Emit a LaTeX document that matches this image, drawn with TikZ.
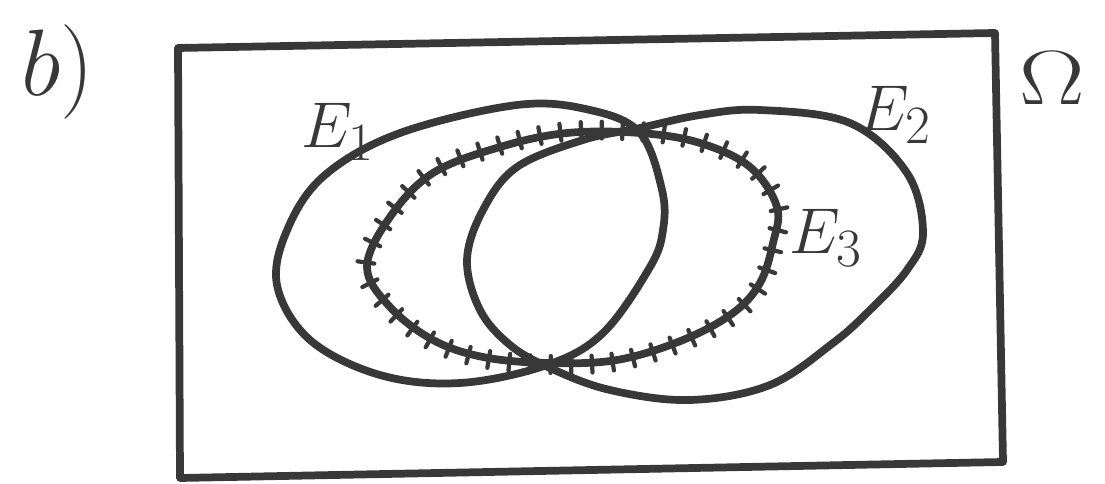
\documentclass[tikz,border=0pt]{standalone}
\usetikzlibrary{decorations.markings}
\tikzset{
  ink/.style={draw=black!78, line width=5.5pt, line cap=round, line join=round},
  hatched/.style={ink, postaction={decorate, decoration={markings,
      mark=between positions 0.01 and 1 step 0.02 with {\draw[black!78, line width=3pt, line cap=round] (0,-5pt) -- (0,7pt);}}}},
  lbl/.style={text=black!78, inner sep=0pt, font=\Huge}
}
\begin{document}
\begin{tikzpicture}[x=0.025cm,y=-0.025cm]
\useasboundingbox (0,0) rectangle (1105,484);
% universe
\draw[ink] (178,48) -- (995,33) -- (1003,462) -- (180,478) -- cycle;
% E1
\draw[ink] plot[smooth cycle, tension=0.6] coordinates {(277,285) (288,228) (325,175) (400,133) (517,105) (590,110) (640,133) (662,190) (663,230) (650,267) (603,333) (547,365) (460,383) (380,375) (310,340)};
% E2
\draw[ink] plot[smooth cycle, tension=0.6] coordinates {(467,260) (483,210) (517,167) (583,140) (640,128) (700,115) (760,110) (850,123) (907,173) (923,233) (907,270) (870,310) (833,343) (770,385) (690,400) (610,390) (550,368) (510,345) (480,310)};
% E3
\draw[hatched] plot[smooth cycle, tension=0.6] coordinates {(367,267) (390,217) (433,173) (500,147) (567,133) (640,133) (700,143) (750,167) (777,207) (773,243) (760,283) (733,313) (683,340) (617,360) (547,363) (483,357) (433,340) (390,307)};
% labels
\node[lbl, scale=2.7] (b) at (58,72) {$b)$};
\node[lbl, scale=1.85] (e1) at (338,132) {$E_1$};
\node[lbl, scale=1.85] (e2) at (895,115) {$E_2$};
\node[lbl, scale=1.85] (e3) at (826,238) {$E_3$};
\node[lbl, xscale=2.8, yscale=2.2] (om) at (1052,78) {$\Omega$};
\end{tikzpicture}
\end{document}
